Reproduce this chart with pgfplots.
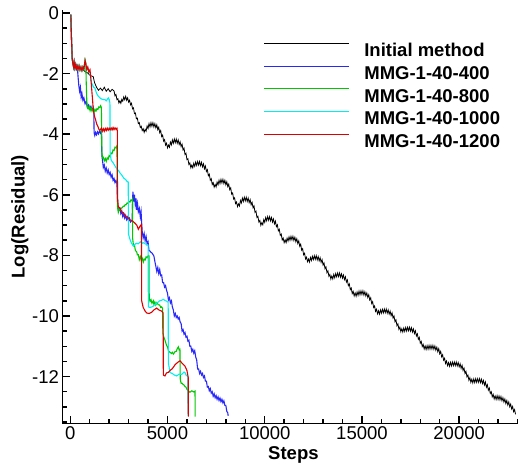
\documentclass[border=0pt]{standalone}
\usepackage{pgfplots}
\pgfplotsset{compat=1.18}
\usepackage{fontspec}
\setmainfont{Liberation Sans}
\definecolor{myblue}{RGB}{40,40,250}
\definecolor{mygreen}{RGB}{0,200,0}
\definecolor{mycyan}{RGB}{0,240,240}
\definecolor{myred}{RGB}{220,0,0}
\newcommand{\ff}{\fontsize{18.5bp}{22bp}\selectfont}
\begin{document}
\begin{tikzpicture}
\path[use as bounding box] (-62.5bp,-46.5bp) rectangle (457.5bp,423.5bp);
\begin{axis}[
 scale only axis, width=455bp, height=413.5bp,
 xmin=-400, xmax=23000, ymin=-13.55, ymax=0.1,
 axis x line*=bottom, axis y line*=left,
 axis line style={line width=1.8bp, -},
 xtick={0,5000,10000,15000,20000}, ytick={-12,-10,-8,-6,-4,-2,0},
 minor xtick={1000,2000,3000,4000,6000,7000,8000,9000,11000,12000,13000,14000,16000,17000,18000,19000,21000,22000,23000},
 minor ytick={-13.5,-13,-11,-9,-7,-5,-3,-1,-12.5,-11.5,-10.5,-9.5,-8.5,-7.5,-6.5,-5.5,-4.5,-3.5,-2.5,-1.5,-0.5},
 tick align=inside,
 major tick length=7.5bp, minor tick length=4.5bp,
 every tick/.append style={black, line width=1.5bp},
 scaled x ticks=false,
 xticklabel style={/pgf/number format/1000 sep={}},
 /pgf/number format/assume math mode=true,
 tick label style={font=\ff},
 xlabel={Steps}, ylabel={Log(Residual)},
 xlabel style={at={(axis description cs:0.5075,-0.0762)}, anchor=center, font=\ff\bfseries},
 ylabel style={at={(axis description cs:-0.0936,0.5)}, anchor=center, font=\ff\bfseries},
 legend style={draw=none, fill=none, at={(0.4414,0.921)}, anchor=north west, inner sep=0pt, font=\ff\bfseries, row sep=9bp,
   nodes={inner sep=0pt, text height=13.3bp, text depth=0pt}},
 legend cell align=left,
 /tikz/every odd column/.append style={column sep=14.7bp},
 legend image code/.code={\draw[#1] (0bp,6.6bp) -- (85bp,6.6bp);},
 clip=false,
]
\addplot[black, line width=0.8bp] coordinates {
(30,-0.05)(60,-0.9)(100,-1.5)(130,-1.68)(200,-1.72)(300,-1.7)(400,-1.82)(500,-1.78)(600,-1.85)(700,-1.9)(800,-1.95)(900,-1.98)(1000,-2.05)(1100,-2.08)(1180,-2.1)(1250,-2.3)(1350,-2.45)(1450,-2.55)(1550,-2.48)(1650,-2.56)(1750,-2.45)(1850,-2.58)(1950,-2.5)(2050,-2.6)(2150,-2.52)
(2250,-2.57)(2300,-2.73)(2350,-2.69)(2400,-2.86)(2450,-2.83)(2500,-2.97)(2550,-2.90)(2600,-2.98)(2650,-2.85)(2700,-2.91)(2750,-2.77)(2800,-2.86)(2850,-2.75)(2900,-2.88)(2950,-2.80)(3000,-2.94)(3050,-2.88)(3100,-3.03)(3150,-2.98)(3200,-3.16)(3250,-3.13)(3300,-3.32)(3350,-3.30)(3400,-3.49)(3450,-3.47)(3500,-3.65)(3550,-3.62)(3600,-3.78)(3650,-3.74)(3700,-3.88)(3750,-3.82)(3800,-3.94)
(3850,-3.84)(3900,-3.90)(3950,-3.73)(4000,-3.81)(4050,-3.65)(4100,-3.76)(4150,-3.62)(4200,-3.74)(4250,-3.62)(4300,-3.76)(4350,-3.65)(4400,-3.79)(4450,-3.69)(4500,-3.85)(4550,-3.77)(4600,-3.95)(4650,-3.88)(4700,-4.08)(4750,-4.03)(4800,-4.23)(4850,-4.18)(4900,-4.36)(4950,-4.30)(5000,-4.45)
(5050,-4.36)(5100,-4.43)(5150,-4.26)(5200,-4.35)(5250,-4.19)(5300,-4.30)(5350,-4.16)(5400,-4.28)(5450,-4.16)(5500,-4.30)(5550,-4.19)(5600,-4.34)(5650,-4.25)(5700,-4.41)(5750,-4.33)(5800,-4.52)(5850,-4.46)(5900,-4.67)(5950,-4.63)(6000,-4.84)(6050,-4.81)(6100,-5.00)(6150,-4.95)(6200,-5.11)
(6250,-5.02)(6300,-5.11)(6350,-4.96)(6400,-5.06)(6450,-4.92)(6500,-5.03)(6550,-4.90)(6600,-5.02)(6650,-4.90)(6700,-5.04)(6750,-4.93)(6800,-5.08)(6850,-4.98)(6900,-5.14)(6950,-5.05)(7000,-5.23)(7050,-5.17)(7100,-5.37)(7150,-5.32)(7200,-5.52)(7250,-5.47)(7300,-5.66)(7350,-5.60)(7400,-5.75)
(7450,-5.66)(7500,-5.74)(7550,-5.58)(7600,-5.67)(7650,-5.52)(7700,-5.63)(7750,-5.49)(7800,-5.61)(7850,-5.49)(7900,-5.63)(7950,-5.52)(8000,-5.67)(8050,-5.57)(8100,-5.73)(8150,-5.65)(8200,-5.83)(8250,-5.77)(8300,-5.98)(8350,-5.94)(8400,-6.14)(8450,-6.10)(8500,-6.29)(8550,-6.24)(8600,-6.39)
(8650,-6.30)(8700,-6.37)(8750,-6.19)(8800,-6.27)(8850,-6.11)(8900,-6.22)(8950,-6.08)(9000,-6.20)(9050,-6.08)(9100,-6.22)(9150,-6.11)(9200,-6.26)(9250,-6.16)(9300,-6.33)(9350,-6.25)(9400,-6.43)(9450,-6.37)(9500,-6.58)(9550,-6.54)(9600,-6.75)(9650,-6.71)(9700,-6.90)(9750,-6.85)(9800,-7.01)
(9850,-6.92)(9900,-6.99)(9950,-6.82)(10000,-6.91)(10050,-6.75)(10100,-6.86)(10150,-6.72)(10200,-6.84)(10250,-6.72)(10300,-6.86)(10350,-6.75)(10400,-6.90)(10450,-6.80)(10500,-6.96)(10550,-6.87)(10600,-7.05)(10650,-6.99)(10700,-7.19)(10750,-7.14)(10800,-7.34)(10850,-7.30)(10900,-7.49)(10950,-7.43)(11000,-7.58)
(11050,-7.49)(11100,-7.58)(11150,-7.43)(11200,-7.53)(11250,-7.39)(11300,-7.50)(11350,-7.37)(11400,-7.49)(11450,-7.37)(11500,-7.51)(11550,-7.40)(11600,-7.55)(11650,-7.45)(11700,-7.61)(11750,-7.52)(11800,-7.70)(11850,-7.63)(11900,-7.83)(11950,-7.78)(12000,-7.98)(12050,-7.93)(12100,-8.12)(12150,-8.06)(12200,-8.21)
(12250,-8.12)(12300,-8.22)(12350,-8.07)(12400,-8.17)(12450,-8.03)(12500,-8.14)(12550,-8.01)(12600,-8.13)(12650,-8.01)(12700,-8.15)(12750,-8.04)(12800,-8.18)(12850,-8.08)(12900,-8.23)(12950,-8.14)(13000,-8.32)(13050,-8.25)(13100,-8.44)(13150,-8.38)(13200,-8.57)(13250,-8.51)(13300,-8.69)(13350,-8.63)(13400,-8.78)
(13450,-8.68)(13500,-8.78)(13550,-8.63)(13600,-8.74)(13650,-8.60)(13700,-8.71)(13750,-8.58)(13800,-8.70)(13850,-8.58)(13900,-8.72)(13950,-8.61)(14000,-8.75)(14050,-8.65)(14100,-8.80)(14150,-8.71)(14200,-8.88)(14250,-8.81)(14300,-9.00)(14350,-8.94)(14400,-9.13)(14450,-9.08)(14500,-9.26)(14550,-9.19)(14600,-9.34)
(14650,-9.24)(14700,-9.35)(14750,-9.21)(14800,-9.32)(14850,-9.18)(14900,-9.30)(14950,-9.17)(15000,-9.29)(15050,-9.17)(15100,-9.31)(15150,-9.20)(15200,-9.34)(15250,-9.24)(15300,-9.39)(15350,-9.30)(15400,-9.47)(15450,-9.40)(15500,-9.59)(15550,-9.53)(15600,-9.72)(15650,-9.67)(15700,-9.85)(15750,-9.78)(15800,-9.93)
(15850,-9.83)(15900,-9.94)(15950,-9.80)(16000,-9.91)(16050,-9.78)(16100,-9.90)(16150,-9.77)(16200,-9.89)(16250,-9.77)(16300,-9.91)(16350,-9.80)(16400,-9.94)(16450,-9.84)(16500,-9.99)(16550,-9.90)(16600,-10.07)(16650,-10.00)(16700,-10.19)(16750,-10.13)(16800,-10.32)(16850,-10.26)(16900,-10.44)(16950,-10.37)(17000,-10.52)
(17050,-10.42)(17100,-10.53)(17150,-10.40)(17200,-10.51)(17250,-10.38)(17300,-10.50)(17350,-10.37)(17400,-10.49)(17450,-10.37)(17500,-10.50)(17550,-10.39)(17600,-10.53)(17650,-10.43)(17700,-10.58)(17750,-10.49)(17800,-10.66)(17850,-10.59)(17900,-10.77)(17950,-10.71)(18000,-10.90)(18050,-10.84)(18100,-11.01)(18150,-10.94)(18200,-11.09)
(18250,-10.99)(18300,-11.11)(18350,-10.98)(18400,-11.10)(18450,-10.97)(18500,-11.09)(18550,-10.97)(18600,-11.09)(18650,-10.97)(18700,-11.10)(18750,-10.99)(18800,-11.13)(18850,-11.03)(18900,-11.18)(18950,-11.08)(19000,-11.25)(19050,-11.17)(19100,-11.35)(19150,-11.28)(19200,-11.46)(19250,-11.40)(19300,-11.57)(19350,-11.49)(19400,-11.64)
(19450,-11.54)(19500,-11.66)(19550,-11.53)(19600,-11.65)(19650,-11.52)(19700,-11.64)(19750,-11.52)(19800,-11.64)(19850,-11.52)(19900,-11.65)(19950,-11.54)(20000,-11.68)(20050,-11.58)(20100,-11.73)(20150,-11.63)(20200,-11.80)(20250,-11.72)(20300,-11.90)(20350,-11.83)(20400,-12.01)(20450,-11.95)(20500,-12.12)(20550,-12.04)(20600,-12.19)
(20650,-12.09)(20700,-12.21)(20750,-12.08)(20800,-12.20)(20850,-12.07)(20900,-12.19)(20950,-12.07)(21000,-12.19)(21050,-12.07)(21100,-12.20)(21150,-12.09)(21200,-12.23)(21250,-12.13)(21300,-12.28)(21350,-12.18)(21400,-12.35)(21450,-12.27)(21500,-12.45)(21550,-12.38)(21600,-12.56)(21650,-12.50)(21700,-12.67)(21750,-12.59)(21800,-12.74)
(21850,-12.64)(21900,-12.76)(21950,-12.63)(22000,-12.76)(22050,-12.64)(22100,-12.77)(22150,-12.66)(22200,-12.80)(22250,-12.70)(22300,-12.84)(22350,-12.74)(22400,-12.89)(22450,-12.79)(22500,-12.94)(22550,-12.84)(22600,-13.00)(22650,-12.91)(22700,-13.07)(22750,-12.99)(22800,-13.16)(22850,-13.09)(22900,-13.25)
};
\addlegendentry{Initial method}
\addplot[myblue, line width=1.1bp] coordinates {
(30,-0.05)(60,-0.8)(100,-1.5)(130,-1.66)(170,-1.78)(200,-1.62)(240,-1.82)(280,-1.7)(320,-1.84)(360,-1.76)(400,-2.1)(440,-2.4)(480,-2.58)(520,-2.45)(560,-2.78)(600,-2.66)(650,-2.88)(700,-2.8)(760,-3.0)(820,-2.92)(880,-3.12)(940,-3.04)(1000,-3.16)(1060,-3.08)(1120,-3.2)(1180,-3.12)(1210,-3.22)(1225,-3.95)(1260,-4.04)(1300,-3.94)(1350,-4.02)(1400,-3.92)(1450,-3.99)(1500,-3.9)(1560,-3.97)(1600,-3.9)(1625,-4.7)(1660,-4.88)(1700,-5.1)(1750,-5.02)(1800,-5.22)(1850,-5.12)(1900,-5.28)(1950,-5.18)(2000,-5.33)(2050,-5.26)(2100,-5.42)(2150,-5.34)(2200,-5.52)(2250,-5.46)(2300,-5.6)(2350,-5.53)(2400,-5.64)(2440,-6.4)(2480,-6.52)(2550,-6.45)(2600,-6.62)(2650,-6.54)(2700,-6.72)(2750,-6.63)(2800,-6.77)(2850,-6.68)(2900,-6.82)(2950,-6.74)(3000,-6.87)(3050,-6.78)(3100,-6.9)(3180,-6.84)(3220,-5.9)(3260,-6.22)(3300,-6.0)(3340,-6.32)(3380,-6.12)(3420,-6.5)(3460,-6.3)(3500,-6.56)(3550,-6.45)(3600,-6.72)(3640,-6.55)(3670,-6.92)(3700,-7.22)(3750,-7.42)(3800,-7.28)(3850,-7.52)(3900,-7.38)(3950,-7.62)(4000,-7.55)(4050,-7.84)(4100,-7.86)(4150,-7.9)(4200,-7.92)(4250,-7.97)(4300,-8.02)(4350,-8.2)(4400,-8.36)(4450,-8.53)(4500,-8.4)(4550,-8.6)(4600,-8.47)(4650,-8.67)(4700,-8.65)(4750,-8.9)(4800,-8.9)(4850,-9.05)(4900,-9.0)(4950,-9.15)(5000,-9.25)(5050,-9.47)(5100,-9.4)(5150,-9.57)(5200,-9.5)(5250,-9.7)(5300,-9.8)(5350,-10.0)(5400,-9.92)(5450,-10.05)(5500,-10.0)(5550,-10.1)(5600,-10.05)(5650,-10.2)(5700,-10.25)(5750,-10.5)(5800,-10.45)(5850,-10.6)(5900,-10.55)(5950,-10.7)(6000,-10.67)(6050,-10.83)(6100,-10.8)(6150,-11.0)(6200,-11.0)(6250,-11.17)(6300,-11.1)(6350,-11.23)(6400,-11.15)(6450,-11.35)(6500,-11.45)(6550,-11.75)(6600,-11.75)(6650,-11.9)(6700,-11.83)(6750,-11.95)(6800,-11.9)(6850,-12.03)(6900,-11.98)(6950,-12.15)(7000,-12.15)(7050,-12.35)(7100,-12.33)(7150,-12.47)(7200,-12.4)(7250,-12.55)(7300,-12.5)(7350,-12.65)(7400,-12.57)(7450,-12.7)(7500,-12.63)(7550,-12.75)(7600,-12.67)(7650,-12.79)(7700,-12.71)(7750,-12.83)(7800,-12.75)(7850,-12.87)(7900,-12.8)(7950,-12.95)(8000,-12.95)(8050,-13.15)(8100,-13.2)(8120,-13.3)
};
\addlegendentry{MMG-1-40-400}
\addplot[mygreen, line width=1.1bp] coordinates {
(30,-0.05)(60,-0.8)(100,-1.5)(130,-1.66)(170,-1.78)(200,-1.62)(240,-1.82)(280,-1.7)(320,-1.84)(360,-1.76)(400,-1.86)(450,-1.74)(500,-1.88)(550,-1.78)(600,-1.9)(650,-1.78)(700,-1.86)(760,-1.55)(800,-1.66)(820,-2.3)(850,-2.9)(875,-3.1)(920,-3.16)(970,-3.08)(1020,-3.22)(1070,-3.13)(1120,-3.24)(1170,-3.16)(1220,-3.26)(1270,-3.18)(1320,-3.24)(1370,-3.16)(1420,-3.18)(1470,-3.1)(1520,-3.12)(1560,-3.06)(1600,-3.12)(1625,-4.6)(1660,-4.78)(1700,-4.76)(1750,-4.88)(1800,-4.8)(1850,-4.9)(1900,-4.78)(1950,-4.82)(2000,-4.7)(2050,-4.74)(2100,-4.62)(2150,-4.64)(2200,-4.52)(2250,-4.54)(2300,-4.43)(2350,-4.45)(2400,-4.38)(2430,-6.4)(2470,-6.58)(2520,-6.48)(2570,-6.5)(2620,-6.44)(2670,-6.43)(2720,-6.38)(2770,-6.38)(2820,-6.33)(2870,-6.33)(2920,-6.27)(2970,-6.28)(3020,-6.22)(3070,-6.24)(3120,-6.17)(3170,-6.2)(3200,-6.15)(3210,-7.45)(3250,-7.68)(3300,-7.66)(3350,-7.84)(3415,-7.88)(3450,-7.98)(3500,-7.98)(3550,-8.14)(3600,-8.04)(3650,-8.18)(3700,-8.1)(3756,-8.22)(3800,-8.12)(3850,-8.15)(3900,-8.05)(3950,-8.08)(4013,-8.0)(4050,-8.02)(4060,-9.42)(4100,-9.52)(4150,-9.46)(4200,-9.58)(4271,-9.5)(4300,-9.62)(4350,-9.54)(4400,-9.64)(4450,-9.56)(4528,-9.63)(4600,-9.64)(4650,-9.72)(4700,-9.7)(4750,-9.75)(4760,-10.55)(4800,-10.68)(4872,-10.8)(4950,-10.97)(5000,-11.02)(5050,-11.15)(5130,-11.2)(5200,-11.24)(5250,-11.2)(5300,-11.26)(5387,-11.18)(5450,-11.17)(5500,-11.08)(5557,-11.02)(5600,-11.12)(5640,-11.1)(5655,-12.08)(5700,-12.22)(5750,-12.22)(5800,-12.26)(5850,-12.28)(5901,-12.33)(5950,-12.35)(6000,-12.42)(6071,-12.47)(6150,-12.52)(6250,-12.47)(6350,-12.51)(6416,-12.48)(6420,-13.32)
};
\addlegendentry{MMG-1-40-800}
\addplot[mycyan, line width=1.1bp] coordinates {
(30,-0.05)(60,-0.8)(100,-1.5)(130,-1.66)(170,-1.78)(200,-1.62)(240,-1.82)(280,-1.7)(320,-1.84)(360,-1.76)(400,-1.86)(450,-1.74)(500,-1.88)(550,-1.78)(600,-1.9)(650,-1.78)(700,-1.86)(760,-1.58)(800,-1.68)(850,-1.85)(900,-1.8)(950,-1.92)(1013,-1.95)(1060,-2.2)(1100,-2.32)(1150,-2.38)(1200,-2.45)(1271,-2.48)(1350,-2.65)(1441,-2.75)(1500,-2.78)(1550,-2.82)(1650,-2.85)(1785,-2.86)(1850,-2.9)(1955,-2.8)(2000,-2.85)(2040,-2.97)(2050,-4.6)(2100,-4.85)(2150,-4.9)(2212,-4.95)(2300,-5.05)(2400,-5.15)(2480,-5.2)(2557,-5.28)(2650,-5.35)(2750,-5.45)(2850,-5.5)(2901,-5.55)(2980,-5.58)(2995,-7.3)(3070,-7.47)(3150,-7.6)(3241,-7.69)(3300,-7.65)(3400,-7.6)(3500,-7.62)(3600,-7.55)(3700,-7.6)(3756,-7.58)(3850,-7.62)(3929,-7.64)(4005,-7.66)(4015,-9.7)(4100,-9.72)(4200,-9.7)(4271,-9.67)(4400,-9.6)(4500,-9.55)(4600,-9.5)(4700,-9.48)(4785,-9.45)(4900,-9.5)(4960,-9.51)(5035,-9.55)(5045,-11.55)(5130,-11.87)(5250,-11.9)(5350,-11.95)(5474,-11.98)(5600,-11.92)(5730,-11.93)(5850,-11.85)(5901,-11.87)(5950,-11.95)(6050,-12.0)(6060,-13.3)
};
\addlegendentry{MMG-1-40-1000}
\addplot[myred, line width=1.1bp] coordinates {
(30,-0.05)(60,-0.8)(100,-1.5)(130,-1.66)(170,-1.78)(200,-1.62)(240,-1.82)(280,-1.7)(320,-1.84)(360,-1.76)(400,-1.86)(450,-1.74)(500,-1.88)(550,-1.78)(600,-1.9)(650,-1.78)(700,-1.86)(760,-1.56)(800,-1.68)(850,-1.86)(900,-1.78)(950,-1.94)(1013,-1.87)(1050,-2.1)(1100,-2.5)(1150,-2.9)(1183,-3.19)(1250,-3.42)(1300,-3.52)(1358,-3.66)(1420,-3.74)(1480,-3.85)(1528,-3.87)(1600,-3.8)(1650,-3.9)(1700,-3.82)(1750,-3.9)(1800,-3.81)(1850,-3.88)(1900,-3.8)(1950,-3.87)(2000,-3.8)(2050,-3.86)(2100,-3.79)(2150,-3.86)(2200,-3.78)(2250,-3.85)(2300,-3.79)(2350,-3.84)(2400,-3.8)(2420,-3.9)(2428,-6.1)(2470,-6.4)(2550,-6.43)(2650,-6.57)(2727,-6.59)(2850,-6.72)(2950,-6.74)(3072,-6.83)(3200,-6.86)(3329,-6.94)(3420,-7.0)(3500,-7.14)(3580,-7.04)(3660,-6.98)(3672,-9.5)(3750,-9.72)(3850,-9.84)(3929,-9.9)(4050,-9.92)(4185,-9.88)(4300,-9.8)(4445,-9.74)(4550,-9.8)(4700,-9.84)(4775,-9.9)(4785,-11.95)(4872,-11.98)(4950,-11.88)(5050,-11.86)(5130,-11.8)(5250,-11.74)(5400,-11.6)(5550,-11.52)(5644,-11.48)(5750,-11.56)(5901,-11.66)(6000,-11.8)(6065,-12.03)(6070,-13.32)
};
\addlegendentry{MMG-1-40-1200}
\end{axis}
\end{tikzpicture}
\end{document}
